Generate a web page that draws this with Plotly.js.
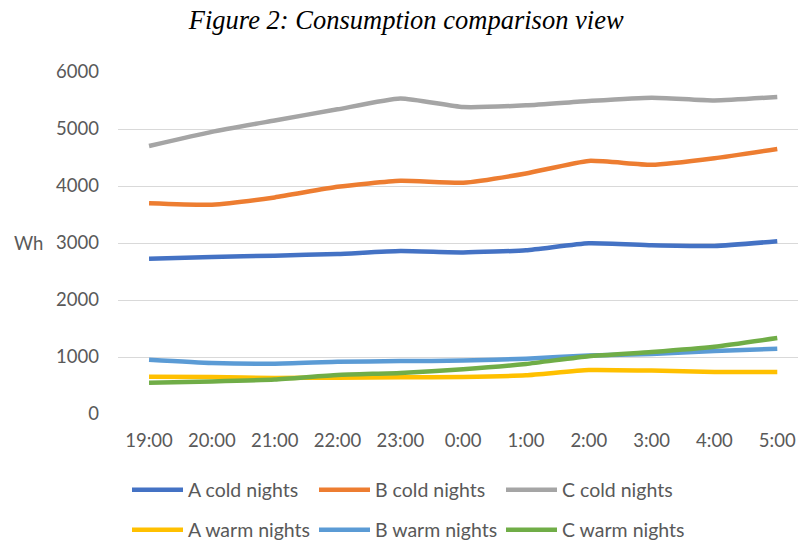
<!DOCTYPE html>
<html>
<head>
<meta charset="utf-8">
<script src="https://cdn.plot.ly/plotly-3.0.1.min.js"></script>
<style>html,body{margin:0;padding:0;background:#fff}#chart{width:798px;height:542px}</style>
</head>
<body>
<div id="chart"></div>
<script>
const hours = ["19:00","20:00","21:00","22:00","23:00","0:00","1:00","2:00","3:00","4:00","5:00"];
const aCold = [2725, 2755, 2778, 2808, 2858, 2835, 2872, 2995, 2960, 2948, 3030];
const bCold = [3698, 3672, 3800, 3985, 4090, 4058, 4220, 4440, 4372, 4488, 4650];
const cCold = [4702, 4950, 5150, 5345, 5535, 5385, 5415, 5492, 5550, 5500, 5562];
const aWarm = [655, 648, 633, 638, 645, 650, 680, 772, 762, 738, 738];
const bWarm = [952, 895, 882, 915, 928, 937, 970, 1028, 1052, 1105, 1145];
const cWarm = [550, 572, 605, 685, 720, 785, 878, 1015, 1088, 1180, 1332];
const yTicks = [0, 1000, 2000, 3000, 4000, 5000, 6000];

const series = [
  {name: "A cold nights", y: aCold, color: "#4472C4", legend: "legend"},
  {name: "B cold nights", y: bCold, color: "#ED7D31", legend: "legend"},
  {name: "C cold nights", y: cCold, color: "#A5A5A5", legend: "legend"},
  {name: "A warm nights", y: aWarm, color: "#FFC000", legend: "legend2"},
  {name: "B warm nights", y: bWarm, color: "#5B9BD5", legend: "legend2"},
  {name: "C warm nights", y: cWarm, color: "#70AD47", legend: "legend2"}
];

const traces = series.map(s => ({
  type: "scatter", mode: "lines", x: hours, y: s.y, name: s.name,
  legend: s.legend,
  line: {color: s.color, width: 4.5, shape: "spline", smoothing: 0.5},
  hoverinfo: "skip"
}));

const tickFont = {family: "Lato, 'Open Sans', sans-serif", size: 18.5, color: "#595959"};
const legendFont = {family: "Lato, 'Open Sans', sans-serif", size: 19.5, color: "#595959"};

const legendCommon = {
  orientation: "h", xref: "container", yref: "container",
  x: 127 / 798, xanchor: "left", yanchor: "middle",
  font: legendFont, entrywidth: 121, entrywidthmode: "pixels",
  itemwidth: 51, bgcolor: "rgba(0,0,0,0)", tracegroupgap: 0
};

const layout = {
  width: 798, height: 542,
  paper_bgcolor: "#ffffff", plot_bgcolor: "#ffffff",
  margin: {l: 118, r: 0, t: 72, b: 128},
  title: {
    text: "Figure 2: Consumption comparison view",
    font: {family: "'Liberation Serif', 'Times New Roman', serif", size: 26.5, color: "#000000", style: "italic"},
    xref: "container", yref: "container", x: 0.509, xanchor: "center", y: 0.963, yanchor: "middle"
  },
  xaxis: {
    type: "category", range: [-0.494, 10.33],
    showgrid: false, zeroline: false, showline: false,
    tickfont: tickFont, ticks: "", ticklabelstandoff: 13, fixedrange: true
  },
  yaxis: {
    range: [0, 6000], tickvals: yTicks, ticktext: yTicks.map(String),
    showgrid: true, gridcolor: "#D9D9D9", gridwidth: 1,
    zeroline: false, showline: false,
    tickfont: tickFont, ticks: "", ticklabelstandoff: 18, fixedrange: true
  },
  legend: Object.assign({}, legendCommon, {y: 1 - 490/542}),
  legend2: Object.assign({}, legendCommon, {y: 1 - 530/542}),
  annotations: [{
    text: "Wh", xref: "paper", yref: "y", x: (12 - 118) / 680, y: 3000,
    xanchor: "left", yanchor: "middle", showarrow: false, font: tickFont
  }],
  showlegend: true
};

Plotly.newPlot("chart", traces, layout, {displayModeBar: false, staticPlot: true});
</script>
</body>
</html>
